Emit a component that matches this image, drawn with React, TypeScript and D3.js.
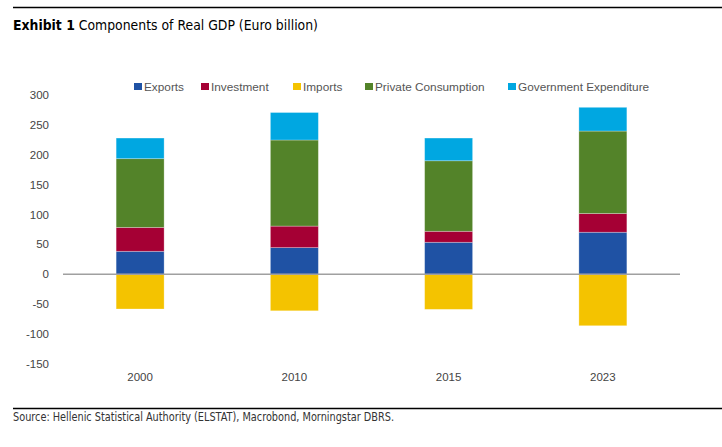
import React from "react";
import * as d3 from "d3";

const years = ["2000", "2010", "2015", "2023"];
const seriesNames = ["Exports", "Investment", "Imports", "Private Consumption", "Government Expenditure"];
const exportsV = [38.5, 44.7, 53.6, 70.4];
const investmentV = [40, 36, 18.4, 31.3];
const importsV = [-58, -61, -58.6, -86];
const consumptionV = [115, 144, 118, 138];
const governmentV = [34.5, 46, 38, 39.7];
const yTicks = [300, 250, 200, 150, 100, 50, 0, -50, -100, -150];
const colors = ["#1f52a4", "#a50034", "#f4c300", "#538329", "#00a7e1"];

const W = 722, H = 447;
const condensed = "'Liberation Sans Narrow', 'DejaVu Sans Condensed', 'Arial Narrow', sans-serif";
const sans = "'Liberation Sans', Arial, sans-serif";

export default function App() {
  const rows = years.map((y, i) => ({
    year: y,
    "Exports": exportsV[i],
    "Investment": investmentV[i],
    "Imports": importsV[i],
    "Private Consumption": consumptionV[i],
    "Government Expenditure": governmentV[i],
  }));
  const stacked = d3.stack<any>().keys(seriesNames).offset(d3.stackOffsetDiverging)(rows);
  const x = d3.scaleBand().domain(years).range([63, 680]).paddingInner(0.689).paddingOuter(0.3445);
  const y = d3.scaleLinear().domain([-150, 300]).range([364, 95]);
  const legendX = [134, 201, 293, 365, 508];

  return (
    <svg width={W} height={H} style={{ position: "absolute", left: 0, top: 0, background: "#fff" }}>
      <line x1={13} x2={W} y1={7.5} y2={7.5} stroke="#000" strokeWidth={1.3} />
      <text x={13} y={30} fontFamily={condensed} fontSize={14.5} fill="#000" textLength={305} lengthAdjust="spacingAndGlyphs">
        <tspan fontWeight="bold">Exhibit 1</tspan>
        <tspan> Components of Real GDP (Euro billion)</tspan>
      </text>
      {seriesNames.map((s, i) => (
        <g key={s}>
          <rect x={legendX[i]} y={83} width={8} height={7} fill={colors[i]} />
          <text x={legendX[i] + 10} y={87} dy="0.35em" fontFamily={sans} fontSize={11.8} fill="#555">{s}</text>
        </g>
      ))}
      {yTicks.map((t) => (
        <text key={t} x={49} y={y(t)} dy="0.35em" textAnchor="end" fontFamily={sans} fontSize={11.5} fill="#444">{t}</text>
      ))}
      {stacked.map((ser, si) => (
        <g key={ser.key} fill={colors[si]}>
          {ser.map((d: any) => (
            <rect key={d.data.year} x={x(d.data.year)} width={x.bandwidth()}
              y={y(Math.max(d[0], d[1]))} height={Math.abs(y(d[0]) - y(d[1]))}
              stroke="#fff" strokeOpacity={0.35} strokeWidth={0.8} />
          ))}
        </g>
      ))}
      <line x1={63} x2={680} y1={y(0)} y2={y(0)} stroke="#a0a0a0" strokeWidth={1.5} />
      {years.map((yr) => (
        <text key={yr} x={(x(yr) as number) + x.bandwidth() / 2} y={377} dy="0.35em" textAnchor="middle" fontFamily={sans} fontSize={11.5} fill="#444">{yr}</text>
      ))}
      <line x1={13} x2={W} y1={408.5} y2={408.5} stroke="#000" strokeWidth={1.3} />
      <text x={13} y={421} fontFamily={condensed} fontSize={11.5} fill="#333" textLength={381} lengthAdjust="spacingAndGlyphs">Source: Hellenic Statistical Authority (ELSTAT), Macrobond, Morningstar DBRS.</text>
    </svg>
  );
}
